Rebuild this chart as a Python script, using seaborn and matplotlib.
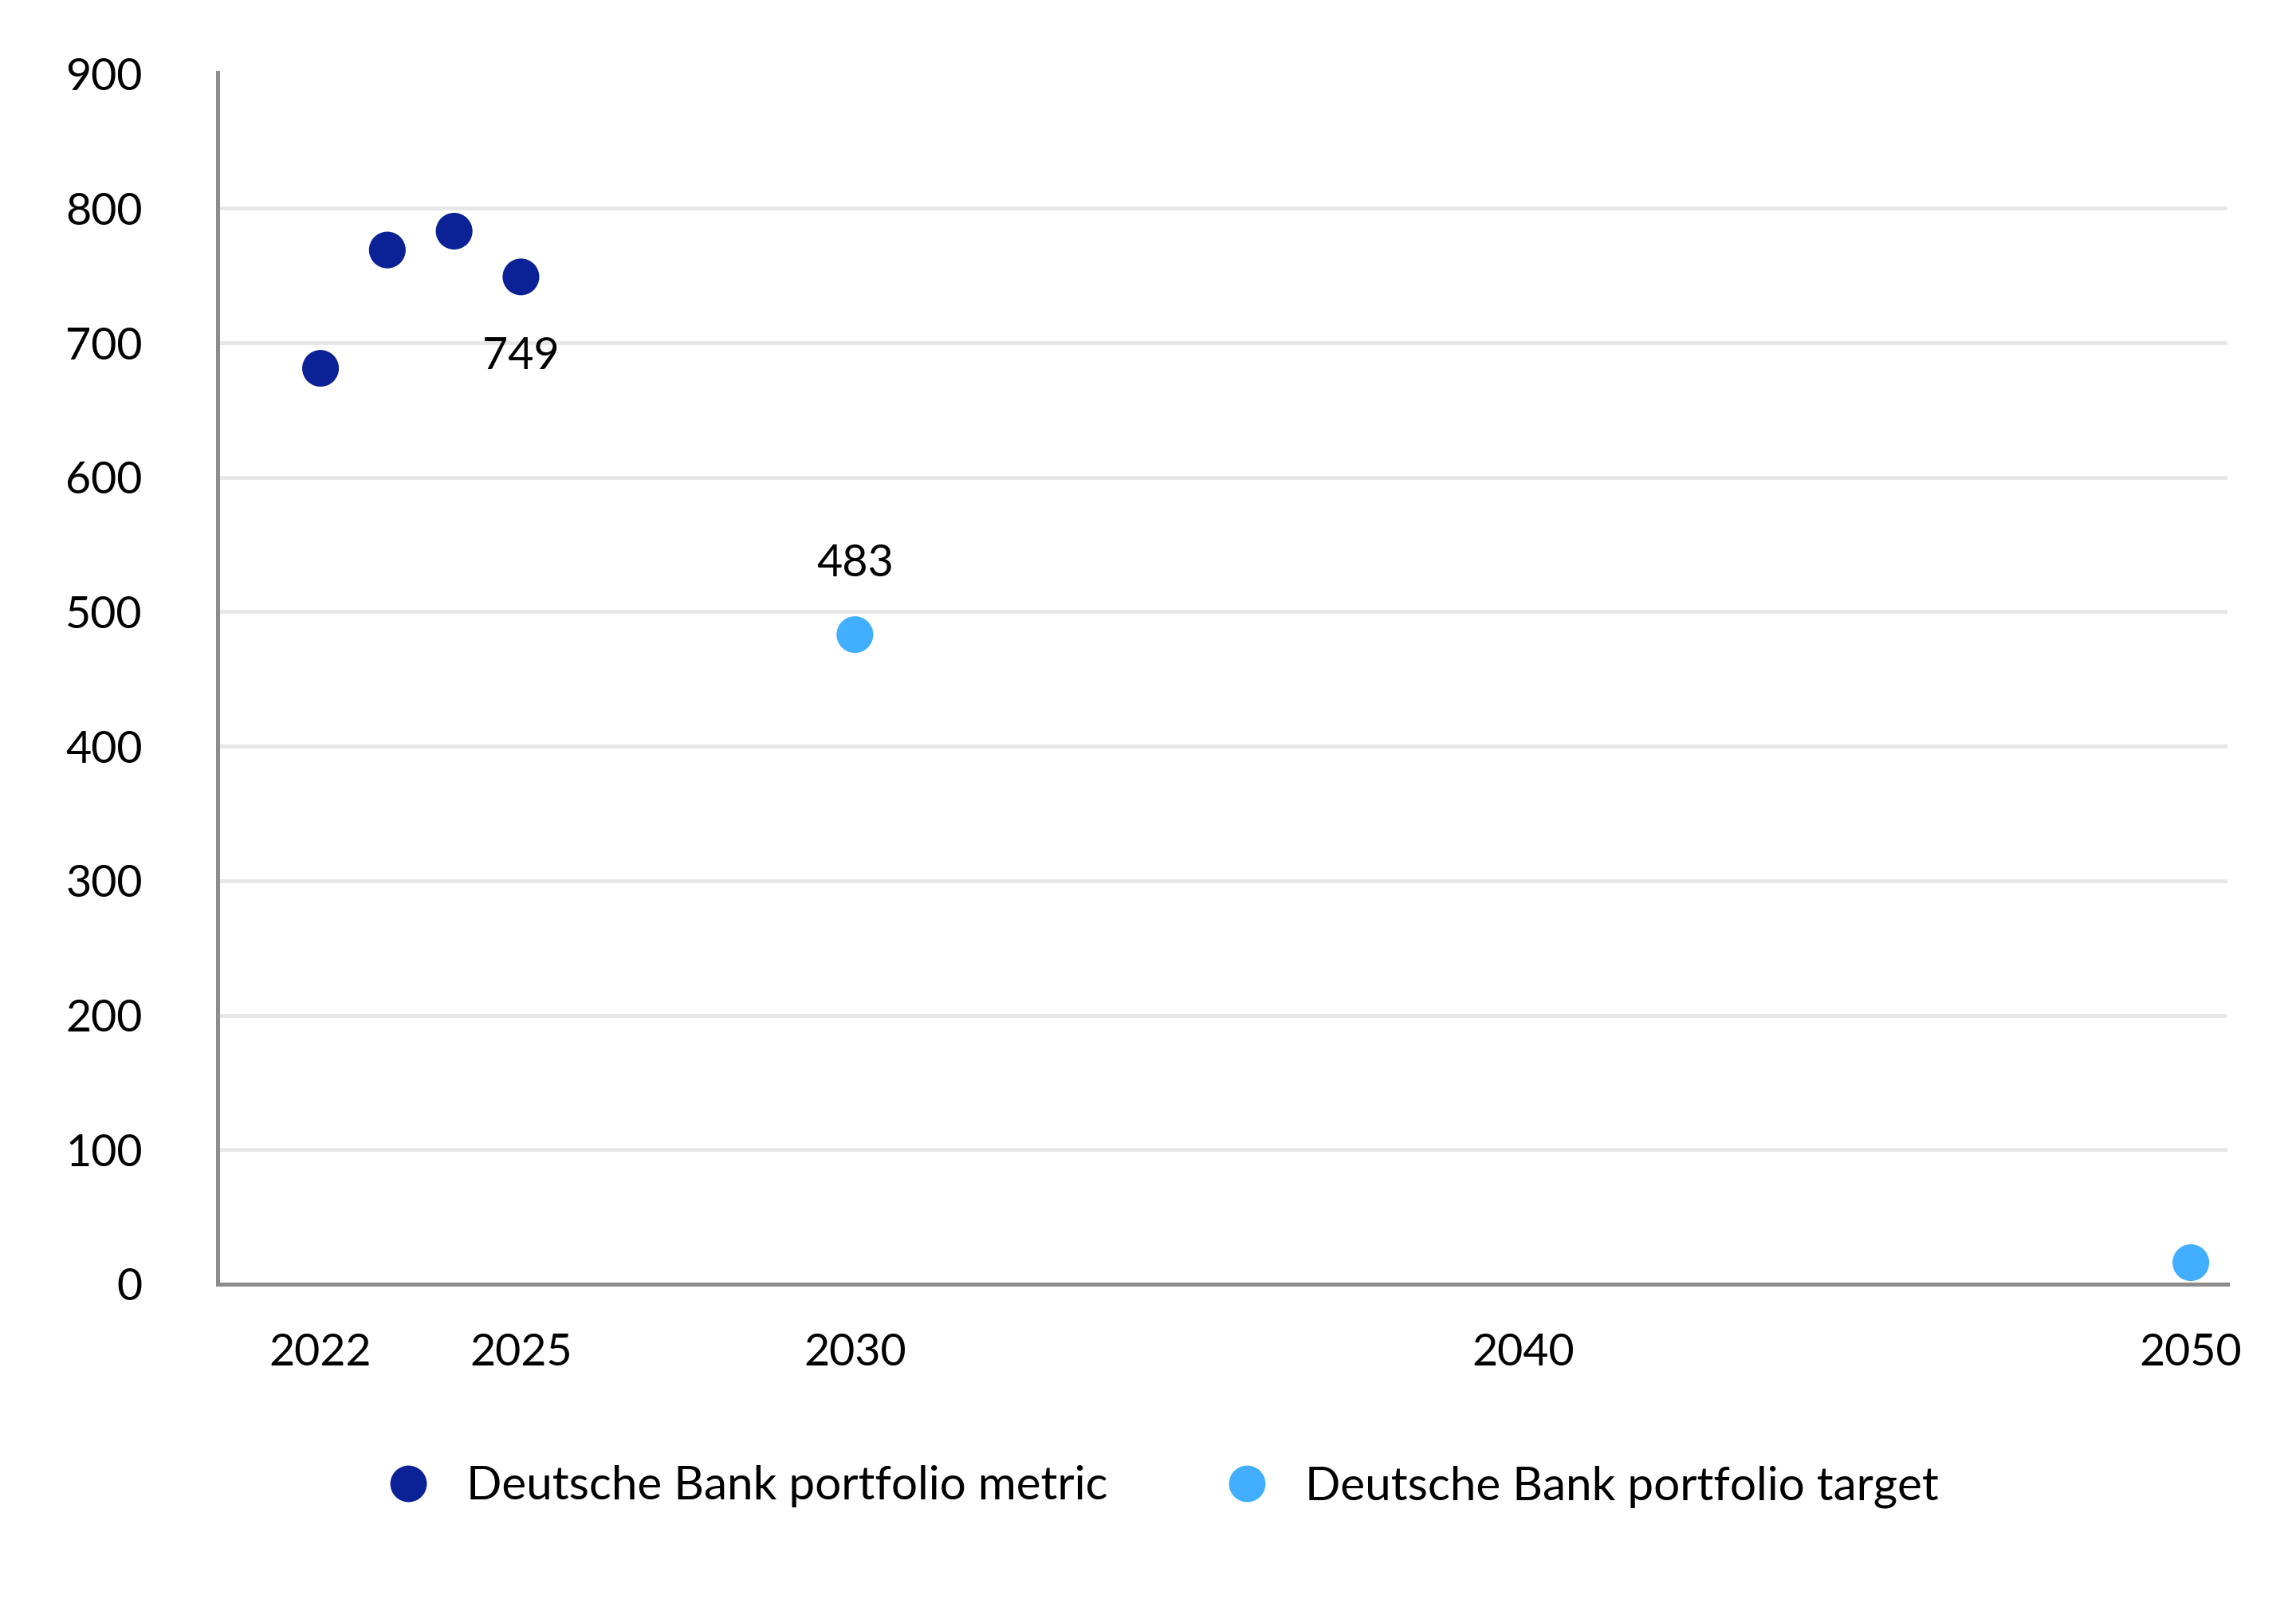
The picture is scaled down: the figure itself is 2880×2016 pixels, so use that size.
import matplotlib
matplotlib.use("Agg")
import matplotlib.pyplot as plt
from matplotlib.lines import Line2D
import seaborn as sns
import pandas as pd

# Portfolio intensity: observed metric and targets
metric_years = [2022, 2023, 2024, 2025]
metric_values = [681, 769, 783, 749]
target_years = [2030, 2050]
target_values = [483, 16]

series_names = ["Deutsche Bank portfolio metric", "Deutsche Bank portfolio target"]
series_colors = ["#0a2296", "#42aeff"]

x_ticks = [2022, 2025, 2030, 2040, 2050]
y_ticks = [0, 100, 200, 300, 400, 500, 600, 700, 800, 900]

# value labels shown next to selected points: (year, value, offset in points)
labelled = [(2025, 749, -36), (2030, 483, 32)]

df = pd.DataFrame({
    "year": metric_years + target_years,
    "value": metric_values + target_values,
    "series": [series_names[0]] * len(metric_years) + [series_names[1]] * len(target_years),
})

sns.set_theme(style="white")
plt.rcParams["font.family"] = ["Lato", "DejaVu Sans"]
plt.rcParams["text.color"] = "black"

fig = plt.figure(figsize=(14.4, 10.08), dpi=200)
ax = fig.add_axes([0.0948, 0.2009, 0.9702 - 0.0948, 0.9549 - 0.2009])

sns.scatterplot(
    data=df, x="year", y="value", hue="series",
    hue_order=series_names, palette=series_colors,
    s=275, linewidth=0, legend=False, ax=ax, zorder=3,
)

ax.set_xlim(2020.46, 2050.55)
ax.set_ylim(0, 901)
ax.set_xticks(x_ticks)
ax.set_yticks(y_ticks)
ax.set_xlabel("")
ax.set_ylabel("")

ax.tick_params(axis="both", length=0, labelsize=20, labelcolor="black")
ax.tick_params(axis="y", pad=34)
ax.tick_params(axis="x", pad=22)

ax.grid(axis="y", color="#e6e6e6", linewidth=1.7)
ax.grid(axis="x", visible=False)
ax.set_axisbelow(True)
ylines = ax.get_ygridlines()
ylines[0].set_visible(False)
ylines[-1].set_visible(False)

for side in ["top", "right"]:
    ax.spines[side].set_visible(False)
for side in ["left", "bottom"]:
    ax.spines[side].set_color("#8c8c8c")
    ax.spines[side].set_linewidth(1.8)

for yr, val, off in labelled:
    ax.annotate(
        f"{val}", xy=(yr, val), xytext=(0, off), textcoords="offset points",
        ha="center", va="center", fontsize=20, color="black",
    )

handles = [
    Line2D([0], [0], marker="o", linestyle="none", markersize=16.5,
           markerfacecolor=c, markeredgewidth=0)
    for c in series_colors
]
leg = fig.legend(
    handles, series_names, loc="center", bbox_to_anchor=(0.506, 0.075),
    ncol=2, frameon=False, fontsize=21, handlelength=1.0,
    handletextpad=0.75, columnspacing=2.5, labelcolor="black",
)

fig.savefig("out.png", dpi=200, facecolor="white")
